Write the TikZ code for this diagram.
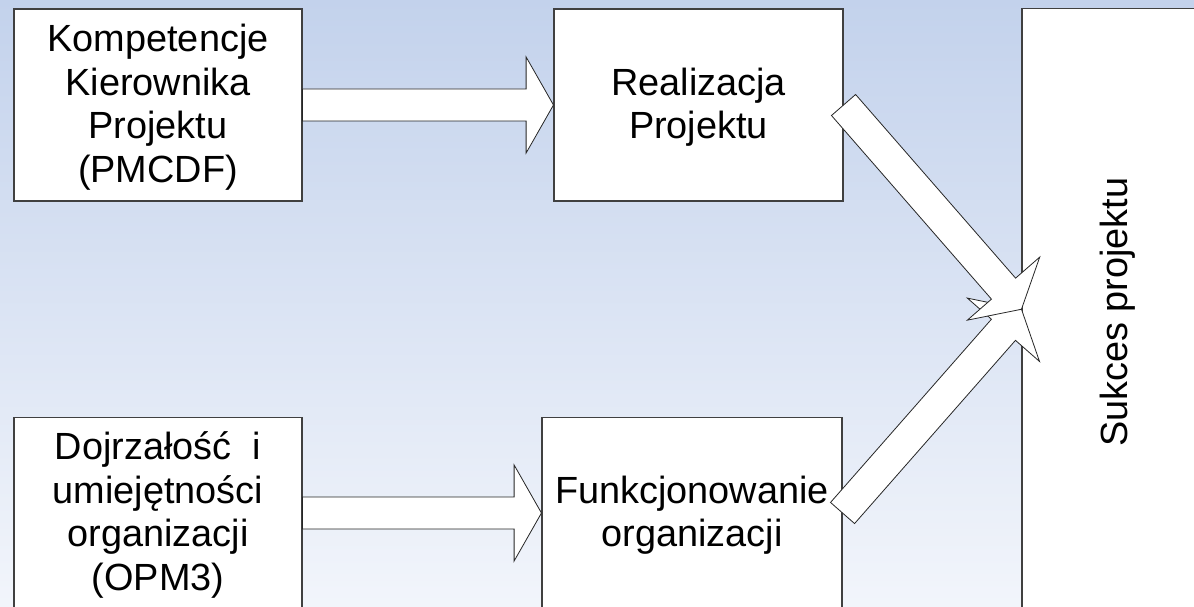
\documentclass[tikz,border=0pt]{standalone}
\usepackage{fontspec}
\setmainfont{Liberation Sans}
\usetikzlibrary{calc}

\definecolor{bgtop}{RGB}{195,210,236}
\definecolor{bgbottom}{RGB}{242,245,251}

\tikzset{
  box/.style={draw=black!75, fill=white, line width=0.8pt, align=center,
    inner sep=0pt, font=\fontsize{28.4}{32.6}\selectfont},
  blockarrow/.style={draw=black!85, fill=white, line width=0.6pt, line join=miter}
}

% text lines set a little below the centre of their box
\newcommand\boxlines[1]{%
  \raisebox{-2.5pt}[\height][\depth]{\begin{tabular}{@{}c@{}}#1\end{tabular}}}

% block arrow #1 (name) from tail centre #2 to tip #3
\newcommand\blockarrow[3]{%
  \coordinate (#1t) at (#2);
  \coordinate (#1p) at (#3);
  \coordinate (#1b) at ($(#1p)!20.5pt!(#1t)$);
  \draw[blockarrow]
    ($(#1t)!12pt!90:(#1p)$) -- ($(#1b)!12pt!90:(#1p)$) --
    ($(#1b)!36pt!90:(#1p)$) -- (#1p) --
    ($(#1b)!36pt!-90:(#1p)$) -- ($(#1b)!12pt!-90:(#1p)$) --
    ($(#1t)!12pt!-90:(#1p)$) -- cycle;
}

\begin{document}
\begin{tikzpicture}[x=0.75pt,y=-0.75pt]
  \useasboundingbox (0,0) rectangle (1194,606);
  % background
  \shade[top color=bgtop, bottom color=bgbottom] (0,0) rectangle (1194,606);

  % boxes
  \node[box, minimum width=216pt, minimum height=144pt] (kom) at (158,105)
    {\boxlines{Kompetencje\\Kierownika\\Projektu\\(PMCDF)}};
  \node[box, minimum width=216.75pt, minimum height=144pt] (real) at (698.5,105)
    {\boxlines{Realizacja\\Projektu}};
  \node[box, minimum width=216pt, minimum height=143.25pt] (doj) at (158,513)
    {\boxlines{Dojrzałość~ i\\umiejętności\\organizacji\\(OPM3)}};
  \node[box, minimum width=225pt, minimum height=143.25pt] (fun) at (692,513)
    {\boxlines{Funkcjonowanie\\organizacji}};

  % horizontal arrows
  \blockarrow{ha}{kom.east}{real.west}
  \blockarrow{hb}{doj.east}{fun.west}

  % result box, text reading upwards
  \node[box, rotate=90, minimum width=451.1pt, minimum height=144pt] (suk)
    at (1118,309.25) {\raisebox{0pt}[\height][\depth]{\hspace*{-4.5pt}Sukces projektu}};

  % diagonal arrows meeting on the result box
  \blockarrow{db}{fun.east}{suk.north}
  \blockarrow{da}{real.east}{suk.north}
\end{tikzpicture}
\end{document}
